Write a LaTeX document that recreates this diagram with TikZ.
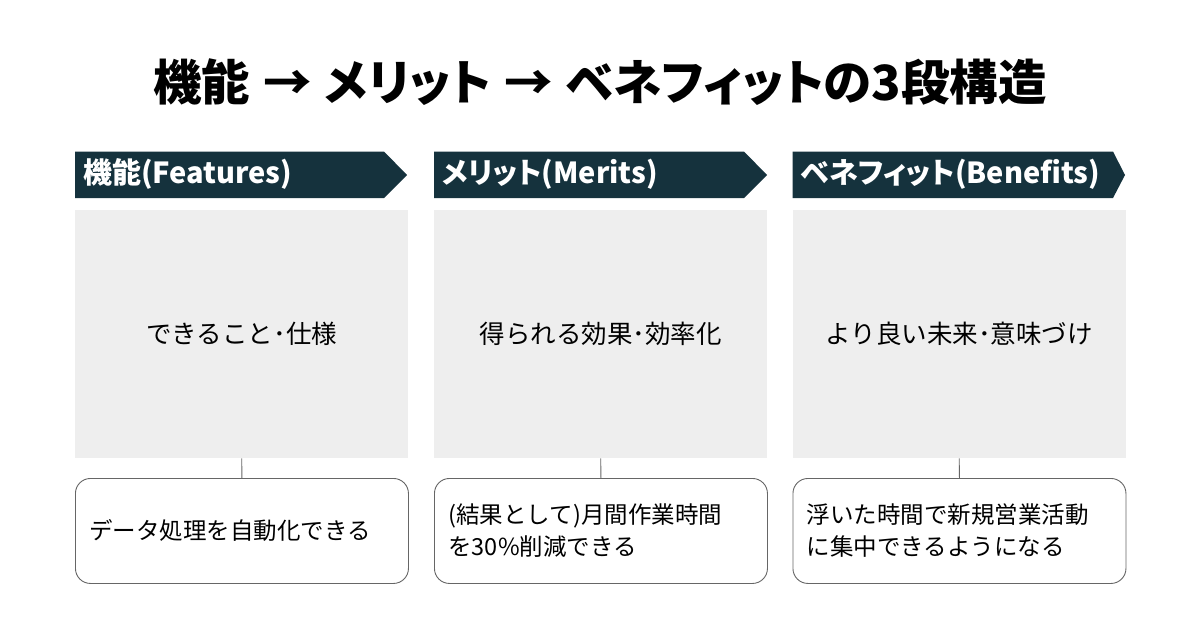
\documentclass[tikz,border=0pt]{standalone}
\usepackage{fontspec}
\setmainfont{Noto Sans CJK JP}
\newfontfamily\jp{Noto Sans CJK JP}
\newfontfamily\jpp[RawFeature=+palt]{Noto Sans CJK JP}
\definecolor{hdr}{HTML}{15323D}
\definecolor{panel}{HTML}{EEEEEE}
\definecolor{edge}{HTML}{666666}
\tikzset{
  hdrtext/.style={anchor=west, text=white, inner sep=0pt, font=\jpp\bfseries\fontsize{29}{32}\selectfont},
  graybox/.style={fill=panel, draw=none, minimum width=333pt, minimum height=248pt, anchor=north west, inner sep=0pt, font=\jp\fontsize{25.5}{30}\selectfont},
  rbox/.style={draw=edge, line width=0.9pt, rounded corners=15pt, fill=white, minimum height=105pt, text width=305pt, inner xsep=14pt, inner ysep=0pt, anchor=north west, align=left, font=\jp\fontsize{23.5}{32}\selectfont},
  conn/.style={draw=edge, line width=0.9pt},
}
\begin{document}
\begin{tikzpicture}[x=1pt,y=-1pt]
\useasboundingbox (0,0) rectangle (1200,630);
\fill[white] (0,0) rectangle (1200,630);
\node[font=\jpp\bfseries\fontsize{48.5}{54}\selectfont, inner sep=0pt] (title) at (600,82) {機能\hspace{13pt}→\hspace{13pt}メリット\hspace{13pt}→\hspace{13pt}ベネフィットの3段構造};
% headers
\fill[hdr] (75,151.5) -- (384,151.5) -- (407,175) -- (384,198) -- (75,198) -- cycle;
\fill[hdr] (434,151.5) -- (744,151.5) -- (767,175) -- (744,198) -- (434,198) -- cycle;
\fill[hdr] (792.5,151.5) -- (1113,151.5) -- (1125,175) -- (1113,198) -- (792.5,198) -- cycle;
\node[hdrtext] (h1) at (83,174) {機能(Features)};
\node[hdrtext] (h2) at (442,174) {メリット(Merits)};
\node[hdrtext] (h3) at (800.5,174) {ベネフィット(Benefits)};
% gray panels
\node[graybox] (g1) at (75,210) {できること･仕様};
\node[graybox] (g2) at (434,210) {得られる効果･効率化};
\node[graybox] (g3) at (792.5,210) {より良い未来･意味づけ};
% rounded boxes
\node[rbox] (b1) at (75,478) {データ処理を自動化できる};
\node[rbox] (b2) at (434,478) {(結果として)月間作業時間\\を30\%削減できる};
\node[rbox] (b3) at (792.5,478) {浮いた時間で新規営業活動\\に集中できるようになる};
\draw[conn] (g1.south) -- (b1.north);
\draw[conn] (g2.south) -- (b2.north);
\draw[conn] (g3.south) -- (b3.north);
\end{tikzpicture}
\end{document}
